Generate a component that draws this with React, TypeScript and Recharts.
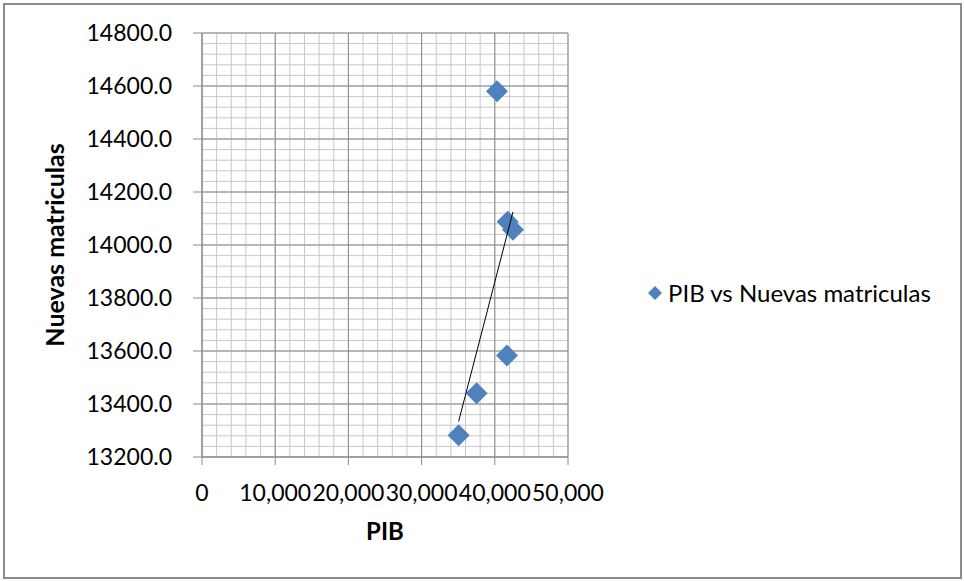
import { ScatterChart, Scatter, XAxis, YAxis, CartesianGrid, Legend, Label } from 'recharts'

// PIB vs Nuevas matriculas
const pib = [40300, 41750, 42480, 41660, 37520, 35060]
const matriculas = [14580, 14088, 14058, 13583, 13441, 13282]

const xTicks = [0, 10000, 20000, 30000, 40000, 50000]
const yTicks = [13200, 13400, 13600, 13800, 14000, 14200, 14400, 14600, 14800]

const SERIES_NAME = 'PIB vs Nuevas matriculas'
const BLUE = '#4F81BD'
const FONT = 'Lato, "Open Sans", sans-serif'

// minor grid every 2000 on x, every 40 on y
const xMinor = Array.from({ length: 26 }, (_, i) => i * 2000)
const yMinor = Array.from({ length: 41 }, (_, i) => 13200 + i * 40)

const points = pib.map((x, i) => ({ x, y: matriculas[i] }))

// linear trendline (least squares), drawn from min to max x like Excel does
const n = pib.length
const mx = pib.reduce((a, b) => a + b, 0) / n
const my = matriculas.reduce((a, b) => a + b, 0) / n
const sxy = pib.reduce((acc, x, i) => acc + (x - mx) * (matriculas[i] - my), 0)
const sxx = pib.reduce((acc, x) => acc + (x - mx) * (x - mx), 0)
const slope = sxy / sxx
const intercept = my - slope * mx
const xLo = Math.min(...pib)
const xHi = Math.max(...pib)
const trend = [
  { x: xLo, y: intercept + slope * xLo },
  { x: xHi, y: intercept + slope * xHi },
]

const Diamond = (props: any) => {
  const { cx, cy } = props
  const r = 11
  return (
    <polygon
      points={`${cx},${cy - r} ${cx + r},${cy} ${cx},${cy + r} ${cx - r},${cy}`}
      fill={BLUE}
    />
  )
}

const YTitle = (props: any) => {
  const { viewBox } = props
  const cx = viewBox.x + 54
  const cy = viewBox.y + viewBox.height / 2
  return (
    <text
      x={cx}
      y={cy}
      transform={`rotate(-90, ${cx}, ${cy})`}
      textAnchor="middle"
      dominantBaseline="central"
      fontFamily={FONT}
      fontWeight="bold"
      fontSize={25}
      fill="#000"
    >
      Nuevas matriculas
    </text>
  )
}

const LegendBox = () => (
  <div style={{ display: 'flex', alignItems: 'center', fontFamily: FONT, fontSize: 24, color: '#000' }}>
    <svg width={14} height={14} style={{ marginRight: 6 }}>
      <polygon points="7,0 14,7 7,14 0,7" fill={BLUE} />
    </svg>
    <span>{SERIES_NAME}</span>
  </div>
)

export default function App() {
  return (
    <div style={{ position: 'absolute', left: 0, top: 0, width: 964, height: 581, background: '#fff' }}>
      <div
        style={{
          position: 'absolute', left: 3, top: 3, width: 959, height: 576,
          boxSizing: 'border-box', border: '2px solid #8c8c8c',
        }}
      />
      <div style={{ position: 'absolute', left: 0, top: 0 }}>
        <ScatterChart width={964} height={581} margin={{ top: 33, right: 396, bottom: 0, left: 0 }}>
          <CartesianGrid stroke="#c8c8c8" strokeWidth={1} horizontalValues={yMinor} verticalValues={xMinor} />
          <CartesianGrid stroke="#8a8a8a" strokeWidth={1} horizontalValues={yTicks} verticalValues={xTicks} />
          <XAxis
            type="number"
            dataKey="x"
            domain={[0, 50000]}
            ticks={xTicks}
            interval={0}
            height={124}
            tickSize={8}
            tickMargin={20}
            stroke="#8a8a8a"
            tick={{ fill: '#000', fontSize: 23, fontFamily: FONT }}
            tickFormatter={(v: number) => v.toLocaleString('en-US')}
          >
            <Label value="PIB" position="insideBottom" offset={41} fill="#000" fontSize={24} fontWeight="bold" fontFamily={FONT} />
          </XAxis>
          <YAxis
            type="number"
            dataKey="y"
            domain={[13200, 14800]}
            ticks={yTicks}
            interval={0}
            width={202}
            tickSize={9}
            tickMargin={21}
            stroke="#8a8a8a"
            tick={{ fill: '#000', fontSize: 23, fontFamily: FONT }}
            tickFormatter={(v: number) => v.toFixed(1)}
          >
            <Label content={<YTitle />} />
          </YAxis>
          <Legend
            layout="vertical"
            align="center"
            verticalAlign="middle"
            content={<LegendBox />}
            wrapperStyle={{ left: 648, top: 278, width: 300 }}
          />
          <Scatter name={SERIES_NAME} data={points} fill={BLUE} shape={<Diamond />} isAnimationActive={false} />
          <Scatter
            name="trend"
            data={trend}
            legendType="none"
            line={{ stroke: '#000', strokeWidth: 1 }}
            shape={() => <g />}
            isAnimationActive={false}
          />
        </ScatterChart>
      </div>
    </div>
  )
}
